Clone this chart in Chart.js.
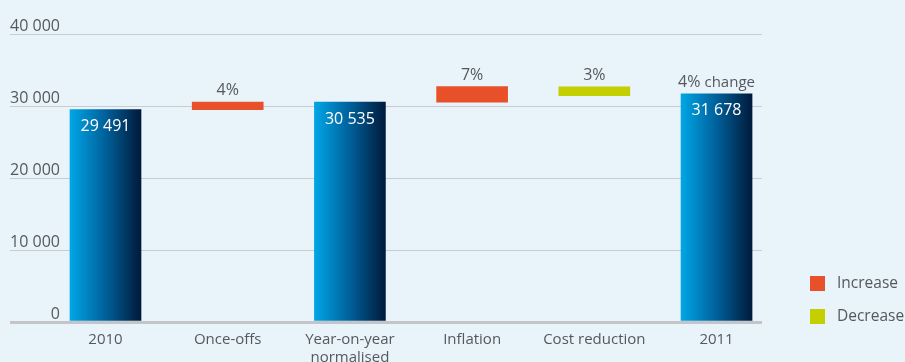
<!DOCTYPE html>
<html><head><meta charset="utf-8">
<script src="https://cdn.jsdelivr.net/npm/chart.js@4/dist/chart.umd.min.js"></script>
<style>html,body{margin:0;padding:0;background:#e9f3fa;overflow:hidden}</style>
</head><body>
<canvas id="c" width="905" height="362"></canvas>
<script>
// ---- data ----
const categories = ['2010', 'Once-offs', ['Year-on-year', 'normalised'], 'Inflation', 'Cost reduction', '2011'];
const totalValues = [[0, 29491], null, [0, 30535], null, null, [0, 31678]];
const increaseValues = [null, [29491, 30535], null, [30535, 32700], null, null];
const decreaseValues = [null, null, null, null, [31450, 32650], null];
const totalLabels = ['29 491', '', '30 535', '', '', '31 678'];
const changeLabels = ['', '4%', '', '7%', '3%', '4%'];
const changeSuffix = ['', '', '', '', '', 'change'];
const legendNames = ['Increase', 'Decrease'];
const yTickValues = [0, 10000, 20000, 30000, 40000];

// ---- styles ----
const FONT = "'Open Sans', 'Noto Sans', sans-serif";
const TEXT = '#55595e';
const BG = '#e9f3fa';
const RED = '#e8502a';
const GREEN = '#c4cf00';
const BAR_W = 71;

const toPoints = arr => arr.map((v, i) => v ? { x: i, y: v } : null).filter(Boolean);
const fmt = v => String(v).replace(/\B(?=(\d{3})+(?!\d))/g, ' ');

function totalGradient(context) {
  const chart = context.chart;
  if (!chart.chartArea || !context.raw) return '#0070b0';
  const x = chart.scales.x.getPixelForValue(context.raw.x);
  const g = chart.ctx.createLinearGradient(x - BAR_W / 2, 0, x + BAR_W / 2, 0);
  g.addColorStop(0, '#00a6e6');
  g.addColorStop(0.5, '#00609a');
  g.addColorStop(1, '#001a3b');
  return g;
}

const bgPlugin = {
  id: 'bg',
  beforeDraw(chart) {
    const { ctx, width, height } = chart;
    ctx.save(); ctx.fillStyle = BG; ctx.fillRect(0, 0, width, height); ctx.restore();
  }
};

const labelPlugin = {
  id: 'labels',
  afterDatasetsDraw(chart) {
    const ctx = chart.ctx;
    ctx.save();
    ctx.textBaseline = 'middle';
    ctx.textAlign = 'center';
    const tops = {};
    chart.data.datasets.forEach((ds, d) => {
      const meta = chart.getDatasetMeta(d);
      meta.data.forEach((el, j) => {
        const idx = ds.data[j].x;
        if (tops[idx] === undefined || el.y < tops[idx].y) tops[idx] = { x: el.x, y: el.y };
        if (d === 0 && totalLabels[idx]) {
          ctx.fillStyle = '#ffffff';
          ctx.font = `16px ${FONT}`;
          ctx.fillText(totalLabels[idx], el.x, el.y + 17);
        }
      });
    });
    Object.keys(tops).forEach(k => {
      const i = +k; const t = tops[k];
      if (!changeLabels[i]) return;
      ctx.fillStyle = TEXT;
      const y = t.y - 11.5;
      if (changeSuffix[i]) {
        ctx.font = `16px ${FONT}`;
        const w1 = ctx.measureText(changeLabels[i]).width;
        ctx.font = `15px ${FONT}`;
        const w2 = ctx.measureText(changeSuffix[i]).width;
        const gap = 4;
        const start = t.x - (w1 + gap + w2) / 2;
        ctx.textAlign = 'left';
        ctx.font = `16px ${FONT}`;
        ctx.fillText(changeLabels[i], start, y);
        ctx.font = `15px ${FONT}`;
        ctx.fillText(changeSuffix[i], start + w1 + gap, y);
        ctx.textAlign = 'center';
      } else {
        ctx.font = `16px ${FONT}`;
        ctx.fillText(changeLabels[i], t.x, y);
      }
    });
    ctx.restore();
  }
};

const legendPlugin = {
  id: 'customLegend',
  afterDraw(chart) {
    const ctx = chart.ctx;
    ctx.save();
    ctx.font = `15.5px ${FONT}`;
    ctx.textBaseline = 'middle';
    ctx.textAlign = 'left';
    chart.data.datasets.slice(1).forEach((ds, k) => {
      const y = 276 + k * 33;
      ctx.fillStyle = ds.backgroundColor;
      ctx.fillRect(810, y, 15, 15);
      ctx.fillStyle = TEXT;
      ctx.fillText(ds.label, 837, y + 8);
    });
    ctx.restore();
  }
};

new Chart(document.getElementById('c'), {
  type: 'bar',
  data: {
    datasets: [
      { label: 'Total', data: toPoints(totalValues), backgroundColor: totalGradient, barThickness: BAR_W, borderWidth: 0 },
      { label: legendNames[0], data: toPoints(increaseValues), backgroundColor: RED, barThickness: BAR_W, borderWidth: 0 },
      { label: legendNames[1], data: toPoints(decreaseValues), backgroundColor: GREEN, barThickness: BAR_W, borderWidth: 0 }
    ]
  },
  options: {
    responsive: false,
    animation: false,
    devicePixelRatio: 1,
    layout: { padding: { left: 10, right: 143, top: 34, bottom: 0 } },
    plugins: { legend: { display: false }, tooltip: { enabled: false } },
    scales: {
      x: {
        type: 'linear',
        stacked: true,
        offset: false,
        min: -0.3723,
        max: 5.372,
        afterFit: s => { s.height = 40; s.paddingLeft = 0; s.paddingRight = 0; },
        grid: { display: false, drawTicks: false, offset: false },
        border: { display: false },
        afterBuildTicks: s => { s.ticks = categories.map((c, i) => ({ value: i })); },
        ticks: {
          autoSkip: false,
          maxRotation: 0,
          padding: 9,
          color: TEXT,
          font: { family: FONT, size: 15 },
          callback: v => categories[v]
        }
      },
      y: {
        type: 'linear',
        stacked: false,
        min: 0,
        max: 40000,
        afterFit: s => { s.width = 50; },
        afterBuildTicks: s => { s.ticks = yTickValues.map(v => ({ value: v })); },
        grid: {
          drawTicks: true,
          tickLength: 50,
          color: c => c.tick && c.tick.value === 0 ? '#c3c5c8' : '#c8cbcf',
          lineWidth: c => c.tick && c.tick.value === 0 ? 3 : 1
        },
        border: { display: false },
        ticks: {
          padding: -50,
          labelOffset: -8,
          crossAlign: 'near',
          color: TEXT,
          font: { family: FONT, size: 16 },
          callback: v => fmt(v)
        }
      }
    }
  },
  plugins: [bgPlugin, labelPlugin, legendPlugin]
});
</script>
</body></html>
